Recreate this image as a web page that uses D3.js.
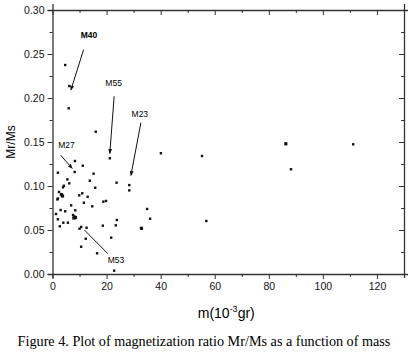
<!DOCTYPE html>
<html>
<head>
<meta charset="utf-8">
<script src="https://cdn.jsdelivr.net/npm/d3@7"></script>
<style>
  body { margin: 0; background: #fff; }
  svg text { font-family: Arial, "Liberation Sans", sans-serif; }
  svg text.caption { font-family: "Liberation Serif", "Times New Roman", serif; }
</style>
</head>
<body>
<script>
// mass (10^-3 gr) and Mr/Ms
const mass = [4.7, 6.2, 6.0, 16.0, 21.2, 8.3, 11.2, 2.0, 8.2, 15.2, 13.8, 5.5, 6.2, 23.7, 4.2, 3.9,
  15.8, 28.4, 28.4, 2.4, 3.3, 3.7, 2.0, 1.8, 11.0, 9.9, 13.0, 11.6, 14.7, 18.8, 19.8, 6.9, 3.0,
  4.7, 8.4, 1.3, 7.6, 8.1, 8.5, 7.9, 2.0, 4.0, 5.7, 2.7, 23.8, 23.4, 18.6, 35.0, 36.1, 32.9,
  10.0, 10.6, 12.6, 12.3, 10.6, 16.5, 21.7, 22.8, 40.1, 55.3, 86.3, 88.2, 111.2, 56.9]
const ratio = [0.2375, 0.2136, 0.1883, 0.1617, 0.1315, 0.1284, 0.1231, 0.1151, 0.1159, 0.114,
  0.106, 0.1076, 0.103, 0.1038, 0.1003, 0.0985, 0.098, 0.101, 0.095, 0.0932, 0.0903, 0.0886,
  0.0858, 0.0847, 0.0917, 0.0894, 0.0878, 0.081, 0.0769, 0.0822, 0.083, 0.078, 0.0727, 0.0713,
  0.0724, 0.0682, 0.067, 0.0653, 0.0642, 0.0636, 0.0622, 0.0583, 0.0583, 0.0542, 0.0614, 0.0553,
  0.0549, 0.0739, 0.0628, 0.0519, 0.0515, 0.0534, 0.0526, 0.0401, 0.031, 0.0235, 0.0413, 0.0038,
  0.1372, 0.1341, 0.148, 0.119, 0.1474, 0.0602]
const big = [20, 21, 49, 60, 38, 39]

const xTicks = [0, 20, 40, 60, 80, 100, 120]
const yTicks = [0.00, 0.05, 0.10, 0.15, 0.20, 0.25, 0.30]

// labelled samples: name, label position (data), arrow tip (data)
const notes = [
  { name: 'M40', lx: 13.5, ly: 0.271, fx: 11.5, fy: 0.255, tx: 6.8, ty: 0.209 },
  { name: 'M55', lx: 22.6, ly: 0.217, fx: 22.8, fy: 0.202, tx: 21.2, ty: 0.137 },
  { name: 'M23', lx: 32.3, ly: 0.182, fx: 32.7, fy: 0.172, tx: 29.0, ty: 0.112 },
  { name: 'M27', lx: 5.2, ly: 0.146, fx: 3.0, fy: 0.135, tx: 7.3, ty: 0.120 },
  { name: 'M53', lx: 23.5, ly: 0.016, fx: 20.5, fy: 0.023, tx: 11.8, ty: 0.050 }
]

const width = 408
const height = 353
const margin = { left: 52.5, right: 4, top: 10, bottom: 79 }

const svg = d3.select('body')
  .append('svg')
  .attr('width', width)
  .attr('height', height)

const x = d3.scaleLinear().domain([0, 130]).range([margin.left, width - margin.right])
const y = d3.scaleLinear().domain([0, 0.30]).range([height - margin.bottom, margin.top])

const x0 = x.range()[0], x1 = x.range()[1]
const y0 = y.range()[0], y1 = y.range()[1]

// axes
const xAxis = svg.append('g')
  .attr('transform', `translate(0,${y0})`)
  .call(d3.axisBottom(x).tickValues(d3.range(0, 131, 10)).tickSize(4)
    .tickFormat(d => xTicks.includes(d) ? d : ''))
xAxis.selectAll('.tick line').attr('y2', d => xTicks.includes(d) ? 5 : 3)

const yAxis = svg.append('g')
  .attr('transform', `translate(${x0},0)`)
  .call(d3.axisLeft(y).tickValues(d3.range(0, 0.3001, 0.025)).tickSize(5)
    .tickFormat(d => yTicks.some(t => Math.abs(t - d) < 1e-9) ? d3.format('.2f')(d) : ''))
yAxis.selectAll('.tick line').attr('x2', (d, i) => i % 2 === 0 ? -5 : -3)

const topAxis = svg.append('g')
  .attr('transform', `translate(0,${y1})`)
  .call(d3.axisTop(x).tickValues(d3.range(0, 131, 10)).tickFormat(''))
topAxis.selectAll('.tick line').attr('y2', (d, i) => i % 2 === 0 ? 5 : 3)

const rightAxis = svg.append('g')
  .attr('transform', `translate(${x1},0)`)
  .call(d3.axisRight(y).tickValues(d3.range(0, 0.3001, 0.025)).tickFormat(''))
rightAxis.selectAll('.tick line').attr('x2', (d, i) => i % 2 === 0 ? -5 : -3)

svg.selectAll('.domain').attr('stroke', '#333').attr('stroke-width', 1.3)
svg.selectAll('.tick line').attr('stroke', '#333')
svg.selectAll('.tick text').attr('font-size', 10.5).attr('fill', '#111')
xAxis.selectAll('.tick text').attr('dy', '0.9em')

// points
svg.append('g')
  .selectAll('rect')
  .data(mass)
  .enter()
  .append('rect')
  .attr('x', (d, i) => x(d) - (big.includes(i) ? 1.6 : 1.2))
  .attr('y', (d, i) => y(ratio[i]) - (big.includes(i) ? 1.6 : 1.2))
  .attr('width', (d, i) => big.includes(i) ? 3.2 : 2.4)
  .attr('height', (d, i) => big.includes(i) ? 3.2 : 2.4)
  .attr('fill', '#111')

// annotations
svg.append('defs').append('marker')
  .attr('id', 'head')
  .attr('viewBox', '0 0 10 10')
  .attr('refX', 9).attr('refY', 5)
  .attr('markerWidth', 5).attr('markerHeight', 5)
  .attr('orient', 'auto')
  .append('path')
  .attr('d', 'M0,1 L10,5 L0,9 Z')
  .attr('fill', '#111')

const ann = svg.append('g')
ann.selectAll('line')
  .data(notes)
  .enter()
  .append('line')
  .attr('x1', d => x(d.fx)).attr('y1', d => y(d.fy))
  .attr('x2', d => x(d.tx)).attr('y2', d => y(d.ty))
  .attr('stroke', '#111')
  .attr('stroke-width', 1)
  .attr('marker-end', d => d.name === 'M53' ? null : 'url(#head)')

ann.selectAll('text')
  .data(notes)
  .enter()
  .append('text')
  .attr('x', d => x(d.lx)).attr('y', d => y(d.ly))
  .attr('text-anchor', 'middle')
  .attr('dy', '0.35em')
  .attr('font-size', 8.5)
  .attr('font-weight', d => d.name === 'M40' ? 'bold' : 'normal')
  .text(d => d.name)

// axis titles
svg.append('text')
  .attr('transform', `translate(15,${(y0 + y1) / 2}) rotate(-90)`)
  .attr('text-anchor', 'middle')
  .attr('font-size', 12)
  .text('Mr/Ms')

const xt = svg.append('text')
  .attr('x', (x0 + x1) / 2 - 2)
  .attr('y', 318)
  .attr('text-anchor', 'middle')
  .attr('font-size', 14)
xt.append('tspan').text('m(10')
xt.append('tspan').attr('font-size', 9).attr('dy', -6).text('-3')
xt.append('tspan').attr('dy', 6).text('gr)')

svg.append('text')
  .attr('class', 'caption')
  .attr('x', width / 2)
  .attr('y', 346)
  .attr('text-anchor', 'middle')
  .attr('font-size', 14.2)
  .text('Figure 4. Plot of magnetization ratio Mr/Ms as a function of mass')
</script>
</body>
</html>
